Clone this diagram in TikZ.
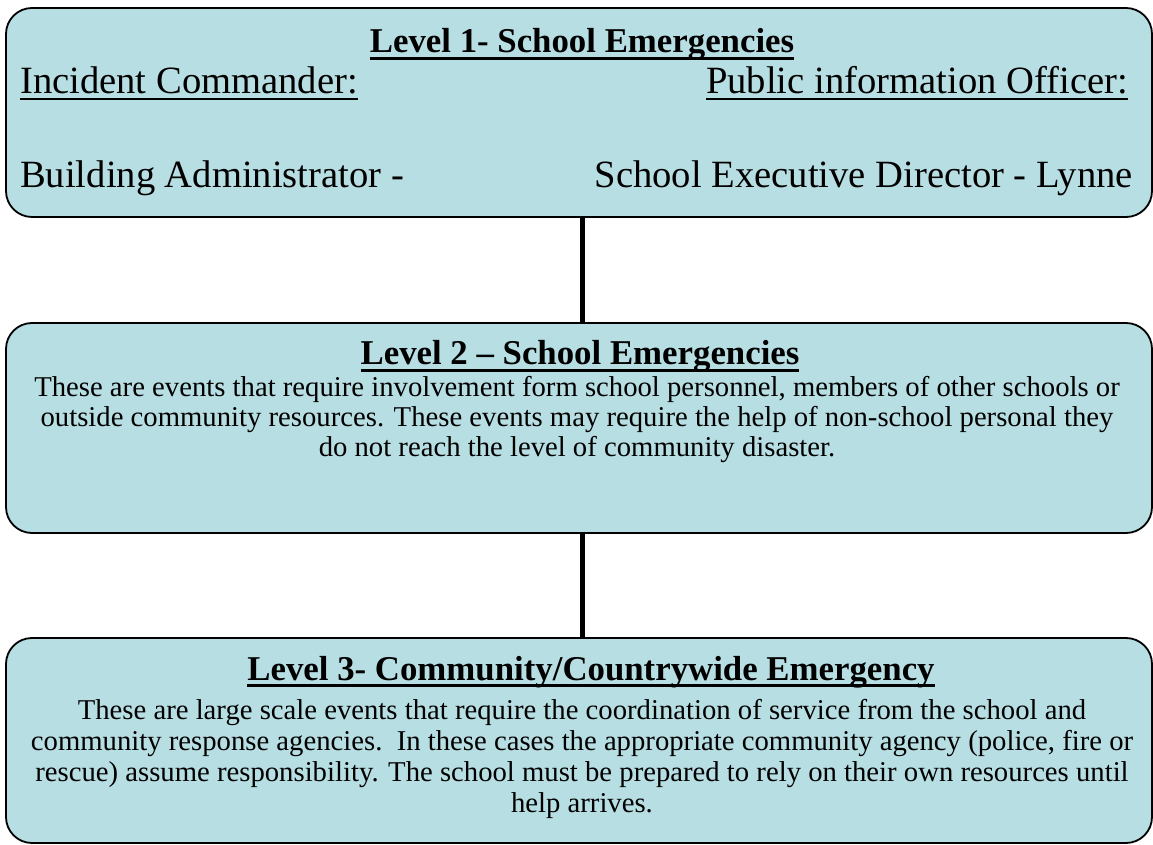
\documentclass[tikz,border=0pt]{standalone}
\usepackage{fontspec}
\setmainfont{Liberation Serif}
\usepackage{xcolor}
\usetikzlibrary{positioning}

\definecolor{levelblue}{RGB}{183,222,227}

% underlined text: rule from #1 below the baseline, #2 thick
\newcommand{\ulbox}[3]{\leavevmode\setbox0=\hbox{#3}%
  \rlap{\vrule height -#1 depth \dimexpr#1+#2\relax width \wd0}\box0}
\newcommand{\headline}[1]{\ulbox{4pt}{3pt}{#1}}
\newcommand{\roleline}[1]{\ulbox{4pt}{2pt}{#1}}

\tikzset{
  em box/.style={
    rectangle,
    rounded corners=26pt,
    draw=black,
    line width=1.8pt,
    fill=levelblue,
    minimum width=1146pt,
    inner sep=0pt,
    outer sep=0pt,
  },
  em title/.style={
    font=\fontsize{34.8}{36}\selectfont\bfseries,
    inner sep=0pt,
    anchor=base,
  },
  em role/.style={
    font=\fontsize{38.6}{40}\selectfont,
    inner sep=0pt,
  },
  em text/.style={
    font=\fontsize{28.7}{30}\selectfont,
    align=center,
    inner sep=0pt,
    anchor=north,
  },
  em link/.style={line width=5pt},
}

\begin{document}
\begin{tikzpicture}[x=1pt,y=1pt]
  \useasboundingbox (0,0) rectangle (1153,844);

  % the three levels
  \node[em box,minimum height=209pt] (lvlone) at (579,731.5) {};
  \node[em box,minimum height=210pt,below=106pt of lvlone] (lvltwo) {};
  \node[em box,minimum height=205pt,below=105pt of lvltwo] (lvlthree) {};

  \draw[em link] ([xshift=3pt]lvlone.south) -- ([xshift=3pt]lvltwo.north);
  \draw[em link] ([xshift=3pt]lvltwo.south) -- ([xshift=3pt]lvlthree.north);

  % level 1
  \node[em title] (onetitle) at (582,791) {\headline{Level 1- School Emergencies}};
  \node[em role,anchor=base west] (cmdr) at (20,750) {\roleline{Incident Commander:}};
  \node[em role,anchor=base east] (pio) at (1128,750) {\roleline{Public information Officer:}};
  \node[em role,anchor=base west] (admin) at (20,656) {Building Administrator -};
  \node[em role,anchor=base east] (director) at (1133,656) {School Executive Director - Lynne};

  % level 2
  \node[em title] (twotitle) at (580,479) {\headline{Level 2 -- School Emergencies}};
  \node[em text] (twotext) at (577,467.5) {These are events that require involvement form school personnel, members of other schools or\\
    outside community resources. These events may require the help of non-school personal they\\
    do not reach the level of community disaster.};

  % level 3
  \node[em title] (threetitle) at (591,164) {\headline{Level 3- Community/Countrywide Emergency}};
  \node[em text,font=\fontsize{28.7}{31}\selectfont] (threetext) at (582,144.5) {These are large scale events that require the coordination of service from the school and\\
    community response agencies.\ \ In these cases the appropriate community agency (police, fire or\\
    rescue) assume responsibility. The school must be prepared to rely on their own resources until\\
    help arrives.};
\end{tikzpicture}
\end{document}
